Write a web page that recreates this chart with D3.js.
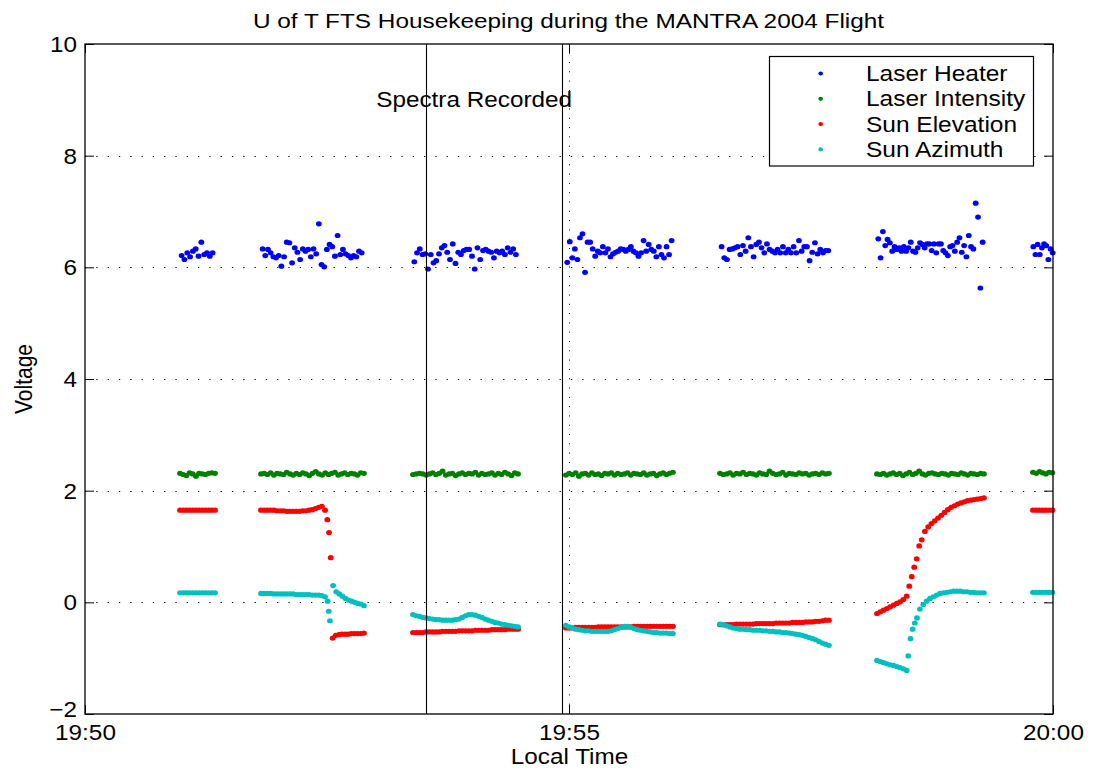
<!DOCTYPE html>
<html><head><meta charset="utf-8">
<script src="https://cdn.jsdelivr.net/npm/d3@7"></script>
<style>body{margin:0;background:#fff} svg{display:block} text{font-family:"Liberation Sans",Arial,Helvetica,sans-serif;fill:#000}</style>
</head><body><svg id="c" width="1093" height="772"></svg>
<script>
// ---------- data (time in seconds after 19:50:00) ----------
const chartTitle = "U of T FTS Housekeeping during the MANTRA 2004 Flight";
const xLabel = "Local Time";
const yLabel = "Voltage";
const xTickSeconds = [0, 300, 600];
const xTickLabels = ["19:50", "19:55", "20:00"];
const yTicks = [-2, 0, 2, 4, 6, 8, 10];
const seriesNames = ["Laser Heater", "Laser Intensity", "Sun Elevation", "Sun Azimuth"];
const seriesColors = ["#0000ff", "#008000", "#ff0000", "#00bfbf"];
const spectraMarkers = [211.2, 295.5];
const spectraLabel = "Spectra Recorded";
const spectraLabelPos = [241.2, 8.88];

// each run: [start second, end second, values sampled evenly in between]
const heaterRuns = [
 [59.9, 79.1, [6.21,6.14,6.26,6.19,6.29,6.33,6.20,6.45,6.23,6.26,6.20,6.26]],
 [110.1, 171.5, [6.33,6.21,6.32,6.26,6.19,6.17,6.21,6.02,6.19,6.45,6.44,6.08,6.35,6.27,6.14,6.33,6.29,6.32,6.19,6.33,6.24,6.78,6.05,6.01,6.32,6.41,6.37,6.20,6.57,6.23,6.32,6.24,6.21,6.17,6.21,6.19,6.29,6.26]],
 [204.1, 267.1, [6.10,6.26,6.33,6.23,6.24,5.97,6.23,6.08,6.12,6.24,6.35,6.39,6.27,6.14,6.42,6.07,6.27,6.23,6.30,6.32,6.32,6.20,5.97,6.35,6.14,6.30,6.32,6.29,6.27,6.17,6.29,6.26,6.29,6.23,6.35,6.27,6.33,6.23]],
 [298.9, 363.6, [6.09,6.46,6.17,6.33,6.14,6.53,6.60,5.91,6.45,6.45,6.33,6.20,6.29,6.26,6.37,6.26,6.33,6.19,6.24,6.27,6.29,6.33,6.32,6.29,6.32,6.37,6.29,6.26,6.20,6.26,6.48,6.29,6.41,6.32,6.29,6.19,6.37,6.23,6.17,6.37,6.23,6.48]],
 [394.6, 460.7, [6.37,6.17,6.14,6.32,6.33,6.35,6.37,6.23,6.39,6.29,6.53,6.37,6.19,6.41,6.45,6.35,6.26,6.42,6.32,6.29,6.26,6.32,6.26,6.37,6.26,6.32,6.26,6.37,6.26,6.48,6.29,6.37,6.37,6.12,6.27,6.44,6.24,6.32,6.26,6.30,6.30]],
 [491.7, 556.4, [6.51,6.17,6.64,6.39,6.50,6.44,6.29,6.37,6.32,6.35,6.29,6.37,6.29,6.35,6.45,6.29,6.27,6.35,6.44,6.41,6.35,6.42,6.42,6.30,6.42,6.26,6.42,6.42,6.30,6.26,6.21,6.37,6.39,6.29,6.45,6.53,6.27,6.39,6.19,6.57,6.37,6.33,7.15,6.90,5.63,6.45]],
 [587.8, 599.8, [6.37,6.23,6.41,6.23,6.35,6.42,6.39,6.14,6.33,6.26]]
];

const intensityRuns = [
 [58.9, 80.6, [2.31,2.29,2.27,2.32,2.30,2.26,2.31,2.30,2.29,2.31,2.32,2.31]],
 [109.1, 172.9, [2.30,2.31,2.29,2.32,2.28,2.31,2.30,2.29,2.33,2.30,2.28,2.31,2.29,2.32,2.30,2.27,2.31,2.34,2.30,2.28,2.32,2.29,2.31,2.33,2.28,2.30,2.32,2.29,2.31,2.30,2.28,2.32,2.31]],
 [203.3, 268.4, [2.29,2.30,2.31,2.30,2.28,2.30,2.32,2.29,2.31,2.35,2.28,2.30,2.31,2.27,2.30,2.32,2.29,2.31,2.30,2.33,2.28,2.31,2.29,2.30,2.32,2.28,2.31,2.29,2.33,2.30,2.27,2.32,2.30]],
 [298.1, 364.4, [2.28,2.31,2.29,2.32,2.26,2.30,2.31,2.28,2.32,2.29,2.30,2.27,2.31,2.30,2.32,2.28,2.31,2.29,2.30,2.32,2.28,2.31,2.30,2.29,2.32,2.28,2.30,2.31,2.27,2.30,2.32,2.29,2.31,2.33]],
 [393.6, 461.1, [2.31,2.29,2.30,2.32,2.28,2.31,2.30,2.33,2.29,2.31,2.30,2.28,2.32,2.30,2.29,2.35,2.31,2.29,2.30,2.33,2.28,2.31,2.30,2.29,2.32,2.30,2.31,2.28,2.30,2.31,2.29,2.32,2.30,2.31]],
 [490.9, 557.2, [2.30,2.29,2.31,2.28,2.30,2.32,2.29,2.31,2.27,2.30,2.33,2.29,2.31,2.35,2.30,2.28,2.31,2.32,2.30,2.29,2.31,2.30,2.28,2.31,2.30,2.29,2.32,2.30,2.28,2.31,2.30,2.29,2.31,2.30]],
 [587.6, 599.6, [2.33,2.31,2.34,2.32,2.30,2.33,2.32]]
];

const elevationRuns = [
 [58.9, 80.6, [1.65,1.65,1.65,1.65,1.65,1.65,1.65,1.65,1.65,1.65,1.65,1.65]],
 [109.1, 148.8, [1.65,1.65,1.65,1.65,1.65,1.64,1.64,1.64,1.63,1.63,1.63,1.63,1.63,1.64,1.64,1.65,1.66,1.68,1.70,1.72,1.65]],
 [150.2, 152.3, [1.48,1.25,0.80]],
 [153.5, 172.9, [-0.64,-0.59,-0.58,-0.57,-0.57,-0.57,-0.56,-0.56,-0.56,-0.56,-0.55]],
 [203.3, 268.4, [-0.54,-0.54,-0.54,-0.54,-0.53,-0.53,-0.53,-0.53,-0.53,-0.52,-0.52,-0.52,-0.52,-0.52,-0.51,-0.51,-0.51,-0.51,-0.51,-0.50,-0.50,-0.50,-0.50,-0.50,-0.49,-0.49,-0.49,-0.49,-0.49,-0.48,-0.48,-0.48,-0.48]],
 [298.1, 364.4, [-0.46,-0.46,-0.46,-0.45,-0.45,-0.45,-0.45,-0.45,-0.45,-0.45,-0.44,-0.44,-0.44,-0.44,-0.44,-0.44,-0.44,-0.44,-0.44,-0.44,-0.44,-0.43,-0.43,-0.43,-0.43,-0.43,-0.43,-0.43,-0.43,-0.43,-0.43,-0.43,-0.43,-0.43]],
 [393.6, 461.1, [-0.40,-0.40,-0.40,-0.40,-0.40,-0.39,-0.39,-0.39,-0.39,-0.39,-0.39,-0.38,-0.38,-0.38,-0.38,-0.38,-0.38,-0.37,-0.37,-0.37,-0.37,-0.37,-0.36,-0.36,-0.36,-0.36,-0.35,-0.35,-0.35,-0.34,-0.34,-0.33,-0.32,-0.32]],
 [490.9, 509.3, [-0.20,-0.17,-0.14,-0.11,-0.08,-0.05,-0.02,0.01,0.05,0.11]],
 [510.9, 518.6, [0.29,0.46,0.63,0.78,1.01,1.12]],
 [520.6, 557.2, [1.27,1.35,1.41,1.46,1.51,1.56,1.61,1.66,1.70,1.73,1.76,1.78,1.80,1.82,1.83,1.84,1.85,1.86,1.87]],
 [587.6, 599.6, [1.65,1.65,1.65,1.65,1.65,1.65,1.65]]
];

const azimuthRuns = [
 [58.9, 80.6, [0.17,0.17,0.17,0.17,0.17,0.17,0.17,0.17,0.17,0.17,0.17,0.17]],
 [109.1, 148.8, [0.16,0.16,0.16,0.16,0.15,0.15,0.15,0.15,0.15,0.15,0.15,0.14,0.14,0.14,0.14,0.14,0.13,0.13,0.13,0.12,0.10]],
 [150.4, 151.8, [0.02,-0.16,-0.33]],
 [153.8, 172.9, [0.30,0.19,0.15,0.11,0.07,0.04,0.02,0.00,-0.02,-0.03,-0.06]],
 [203.3, 268.4, [-0.22,-0.24,-0.25,-0.27,-0.28,-0.29,-0.30,-0.31,-0.31,-0.32,-0.32,-0.32,-0.32,-0.31,-0.30,-0.27,-0.24,-0.22,-0.22,-0.23,-0.25,-0.27,-0.30,-0.32,-0.34,-0.36,-0.37,-0.39,-0.40,-0.41,-0.42,-0.43,-0.44]],
 [298.1, 364.4, [-0.41,-0.44,-0.46,-0.48,-0.49,-0.50,-0.51,-0.51,-0.52,-0.52,-0.52,-0.52,-0.52,-0.52,-0.51,-0.49,-0.47,-0.45,-0.43,-0.43,-0.45,-0.47,-0.49,-0.50,-0.51,-0.52,-0.53,-0.54,-0.54,-0.55,-0.55,-0.55,-0.56,-0.56]],
 [393.6, 461.1, [-0.39,-0.40,-0.42,-0.44,-0.46,-0.47,-0.48,-0.48,-0.49,-0.49,-0.50,-0.50,-0.50,-0.51,-0.51,-0.52,-0.52,-0.53,-0.53,-0.54,-0.54,-0.55,-0.56,-0.57,-0.58,-0.59,-0.61,-0.63,-0.65,-0.67,-0.70,-0.73,-0.75,-0.77]],
 [490.9, 509.3, [-1.04,-1.06,-1.08,-1.10,-1.12,-1.13,-1.15,-1.17,-1.19,-1.22]],
 [510.3, 515.7, [-0.96,-0.65,-0.48,-0.37,-0.28]],
 [517.5, 557.2, [-0.12,-0.04,0.02,0.07,0.10,0.13,0.16,0.17,0.18,0.19,0.20,0.20,0.20,0.19,0.19,0.18,0.18,0.17,0.17,0.17]],
 [587.6, 599.6, [0.18,0.18,0.18,0.18,0.18,0.18,0.18]]
];

// ---------- drawing ----------
const L = 85, R = 1053, T = 44, B = 714;
const SX = 1.13; // horizontal glyph stretch of the reference
const x = d3.scaleLinear().domain([0, 600]).range([L, R]);
const y = d3.scaleLinear().domain([-2, 10]).range([B, T]);
const svg = d3.select("#c");
const snap = v => Math.round(v) + 0.5;

function expand(runs) {
  const pts = [];
  runs.forEach(([t0, t1, vals]) => {
    const n = vals.length;
    vals.forEach((v, i) => pts.push([n > 1 ? t0 + i * (t1 - t0) / (n - 1) : t0, v]));
  });
  return pts;
}
const allSeries = [heaterRuns, intensityRuns, elevationRuns, azimuthRuns].map(expand);

// grid
const grid = svg.append("g");
grid.selectAll("line.h").data(yTicks.filter(v => v > -2 && v < 10)).join("line")
  .attr("x1", L).attr("x2", R).attr("y1", d => snap(y(d))).attr("y2", d => snap(y(d)))
  .attr("stroke", "#000").attr("stroke-width", 1).attr("stroke-dasharray", "1.3,10");
grid.selectAll("line.v").data(xTickSeconds.filter(s => s > 0 && s < 600)).join("line")
  .attr("x1", d => snap(x(d))).attr("x2", d => snap(x(d))).attr("y1", B).attr("y2", T)
  .attr("stroke", "#000").attr("stroke-width", 1).attr("stroke-dasharray", "1,8.3");

// axes (inward ticks on all sides)
const fmtY = d => d < 0 ? "\u2212" + Math.abs(d) : String(d);
const gL = svg.append("g").attr("transform", `translate(${L},0)`)
  .call(d3.axisLeft(y).tickValues(yTicks).tickSize(-9).tickFormat(fmtY));
const gR = svg.append("g").attr("transform", `translate(${R},0)`)
  .call(d3.axisRight(y).tickValues(yTicks).tickSize(-9).tickFormat(""));
const gB = svg.append("g").attr("transform", `translate(0,${B})`)
  .call(d3.axisBottom(x).tickValues(xTickSeconds).tickSize(-9).tickFormat((d, i) => xTickLabels[i]));
const gT = svg.append("g").attr("transform", `translate(0,${T})`)
  .call(d3.axisTop(x).tickValues(xTickSeconds).tickSize(-9).tickFormat(""));
[gL, gR, gB, gT].forEach(g => {
  g.select(".domain").remove();
  g.selectAll("line").attr("stroke", "#000").attr("stroke-width", 1);
});
gL.selectAll("text").attr("font-size", 21.5).attr("font-family", null)
  .attr("x", -8 / SX).attr("dy", d => d === -2 ? "0.12em" : "0.35em")
  .attr("transform", `scale(${SX},1)`).attr("text-anchor", "end");
gB.selectAll("text").attr("font-size", 21.5).attr("font-family", null)
  .attr("y", 26.5).attr("dy", 0).attr("transform", `scale(${SX},1)`);

// data markers
allSeries.forEach((pts, k) => {
  svg.append("g").selectAll("ellipse").data(pts).join("ellipse")
    .attr("cx", d => x(d[0])).attr("cy", d => y(d[1]))
    .attr("rx", 2.9).attr("ry", 2.6).attr("fill", seriesColors[k]);
});

// annotation text and spectra lines
svg.append("text").attr("font-size", 21.5).attr("text-anchor", "middle")
  .attr("transform", `translate(${x(spectraLabelPos[0])},${y(spectraLabelPos[1])}) scale(${SX},1)`)
  .text(spectraLabel);
svg.append("g").selectAll("line").data(spectraMarkers).join("line")
  .attr("x1", d => snap(x(d))).attr("x2", d => snap(x(d))).attr("y1", T).attr("y2", B)
  .attr("stroke", "#000").attr("stroke-width", 1.1);

// axes box
svg.append("rect").attr("x", L).attr("y", T).attr("width", R - L).attr("height", B - T)
  .attr("fill", "none").attr("stroke", "#000").attr("stroke-width", 1.3);

// legend
const lg = svg.append("g");
lg.append("rect").attr("x", 769.5).attr("y", 56.5).attr("width", 264).attr("height", 109.5)
  .attr("fill", "#fff").attr("stroke", "#000").attr("stroke-width", 1.2);
const rows = lg.selectAll("g.row").data(seriesNames).join("g")
  .attr("transform", (d, i) => `translate(0,${73.5 + i * 25.3})`);
rows.append("ellipse").attr("cx", 820.7).attr("cy", 0).attr("rx", 2.3).attr("ry", 2.1)
  .attr("fill", (d, i) => seriesColors[i]);
rows.append("text").attr("font-size", 21.3).attr("dy", "0.35em")
  .attr("transform", `translate(866,0) scale(1.15,1)`).text(d => d);

// titles
svg.append("text").attr("font-size", 21).attr("text-anchor", "middle")
  .attr("transform", `translate(568.5,28) scale(1.16,1)`).text(chartTitle);
svg.append("text").attr("font-size", 21.5).attr("text-anchor", "middle")
  .attr("transform", `translate(569.5,763.5) scale(${SX},1)`).text(xLabel);
svg.append("text").attr("font-size", 21).attr("text-anchor", "middle")
  .attr("transform", `translate(32,379) rotate(-90) scale(1,${SX})`).text(yLabel);
</script>
</body></html>
